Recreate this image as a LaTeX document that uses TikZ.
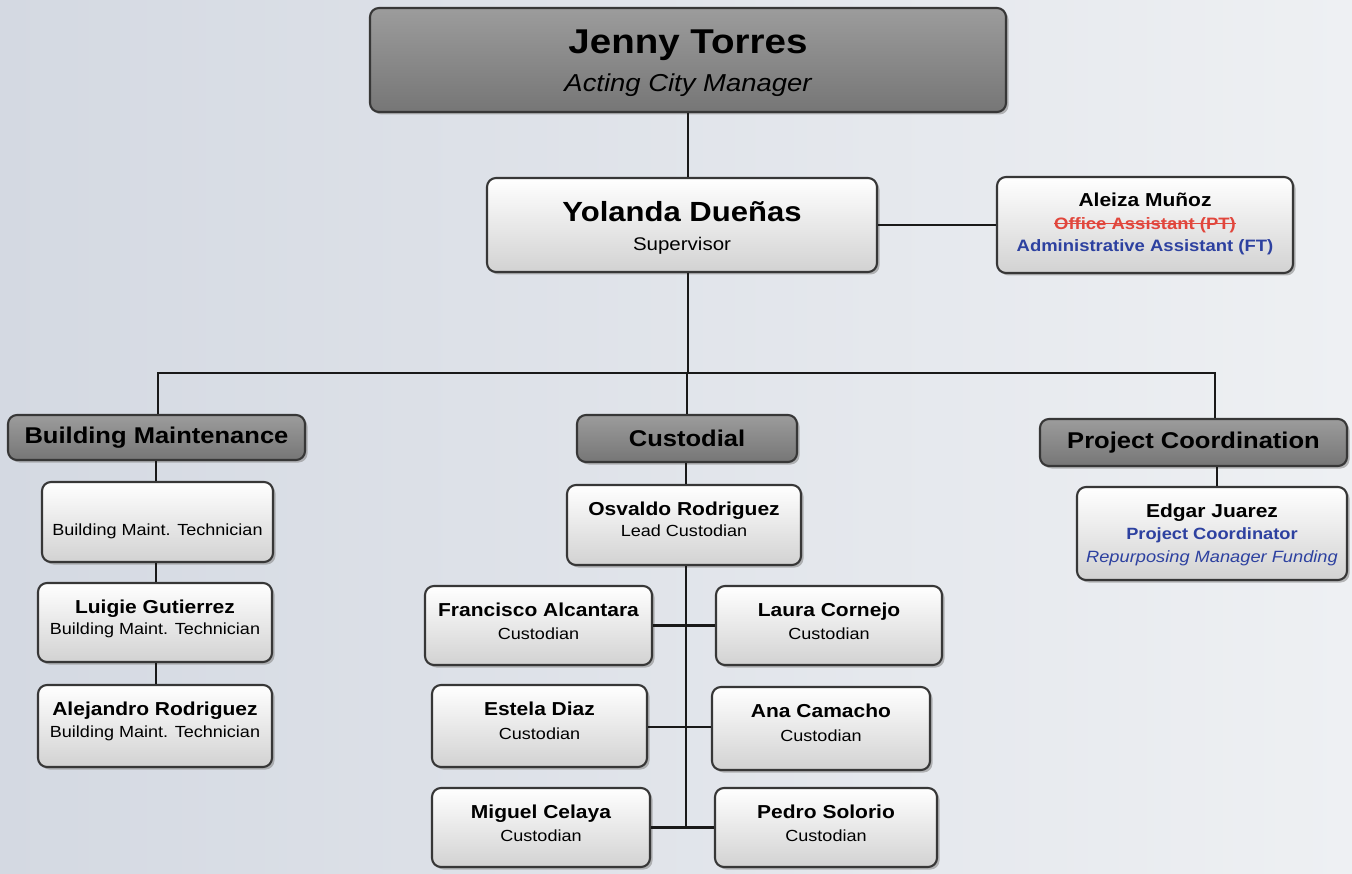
\documentclass[tikz,border=0pt]{standalone}
\usepackage{fontspec}
\setmainfont{Liberation Sans}[FakeStretch=1.12]
\usetikzlibrary{shadows}
\definecolor{bgL}{RGB}{212,217,226}
\definecolor{bgR}{RGB}{238,240,243}
\definecolor{hdTop}{RGB}{156,156,156}
\definecolor{hdBot}{RGB}{118,118,118}
\definecolor{lbBot}{RGB}{210,210,210}
\definecolor{edge}{RGB}{55,55,55}
\definecolor{redT}{RGB}{225,70,60}
\definecolor{blueT}{RGB}{45,65,160}
\newcommand{\fs}[1]{\fontsize{#1}{\fpeval{#1*1.2}}\selectfont}
\newcommand{\skipfont}[1]{\fontsize{10}{#1}\selectfont}
\newcommand{\strikeit}[1]{\setbox0\hbox{#1}\rlap{\raisebox{0.33em}{\rule{\wd0}{1.3pt}}}\box0}
% first-line height strut and last-line depth strut (fix text position in the box)
\newcommand{\hs}[1]{\rule{0pt}{#1pt}}
\newcommand{\ds}[1]{\rule[-#1pt]{0pt}{#1pt}}
\tikzset{
  base/.style={rounded corners=9pt, draw=edge, line width=2.1pt, align=center, inner sep=0pt,
     drop shadow={shadow xshift=2.5pt, shadow yshift=-2.5pt, fill=black!45, opacity=0.6}},
  darkbox/.style={base, top color=hdTop, bottom color=hdBot},
  lightbox/.style={base, top color=white, bottom color=lbBot},
  wire/.style={line width=2.8pt, draw=black!90},
  lead/.style={font=\skipfont{#1}},
}
\newcommand{\nm}[1]{{\bfseries\fs{18.75}#1}}
\newcommand{\ti}[1]{{\fs{16.1}#1}}
\begin{document}
\begin{tikzpicture}[x=1pt,y=-1pt]
\shade[left color=bgL, right color=bgR] (0,0) rectangle (1352,874);
\useasboundingbox (0,0) rectangle (1352,874);

% connector x positions
\coordinate (xTop) at (688,0);
\coordinate (xBM) at (156,0);
\coordinate (xC) at (686,0);
\coordinate (xPC) at (1217,0);
\coordinate (yEst) at (0,727);

% nodes
\node[darkbox, lead=38, minimum width=636pt, minimum height=104pt] (jenny) at (688,60)
  {\hs{32}{\bfseries\fs{34.4}Jenny Torres}\\{\itshape\fs{24.5}Acting City Manager}\ds{6}};
\node[lightbox, lead=29, minimum width=390pt, minimum height=94pt] (yolanda) at (682,225)
  {\hs{30}{\bfseries\fs{27.7}Yolanda Dueñas}\\{\fs{18.3}Supervisor}\ds{7}};
\node[lightbox, lead=22.5, minimum width=296pt, minimum height=94pt] (aleiza) at (1145,225)
  {\hs{30}\nm{Aleiza Muñoz}\\{\bfseries\fs{16.5}\color{redT}\strikeit{Office Assistant (PT)}}\\{\bfseries\fs{16.5}\color{blueT}Administrative Assistant (FT)}\ds{21}};

\node[darkbox, minimum width=297pt, minimum height=45pt] (bm) at (156.5,437.5)
  {\bfseries\fs{22.8}Building Maintenance};
\node[darkbox, minimum width=220pt, minimum height=47pt] (cust) at (687,438.5)
  {\bfseries\fs{22.8}Custodial};
\node[darkbox, minimum width=307pt, minimum height=47pt] (pc) at (1193.5,442.5)
  {\bfseries\fs{22.8}Project Coordination};

\node[lightbox, minimum width=231pt, minimum height=80pt] (bm1) at (157.5,522)
  {\hs{30}\ti{Building Maint. Technician}\ds{4}};
\node[lightbox, lead=21, minimum width=234pt, minimum height=79pt] (bm2) at (155,622.5)
  {\hs{30}\nm{Luigie Gutierrez}\\\ti{Building Maint. Technician}\ds{28}};
\node[lightbox, lead=22, minimum width=234pt, minimum height=78pt] (bm3) at (155,726)
  {\hs{30}\nm{Alejandro Rodriguez}\\\ti{Building Maint. Technician}\ds{30}};

\node[lightbox, lead=21, minimum width=234pt, minimum height=78pt] (osv) at (684,525)
  {\hs{30}\nm{Osvaldo Rodriguez}\\\ti{Lead Custodian}\ds{29}};
\node[lightbox, lead=22.5, minimum width=270pt, minimum height=93pt] (edgar) at (1212,533.5)
  {\hs{30}\nm{Edgar Juarez}\\{\bfseries\fs{16.3}\color{blueT}Project Coordinator}\\{\itshape\fs{16.3}\color{blueT}Repurposing Manager Funding}\ds{18}};

\node[lightbox, lead=23, minimum width=227pt, minimum height=75pt] (fra) at (538.5,625.5)
  {\hs{30}\nm{Francisco Alcantara}\\\ti{Custodian}\ds{26}};
\node[lightbox, lead=23, minimum width=226pt, minimum height=75pt] (lau) at (829,625.5)
  {\hs{30}\nm{Laura Cornejo}\\\ti{Custodian}\ds{26}};
\node[lightbox, lead=24, minimum width=215pt, minimum height=78pt] (est) at (539.5,726)
  {\hs{30}\nm{Estela Diaz}\\\ti{Custodian}\ds{28}};
\node[lightbox, lead=24, minimum width=218pt, minimum height=77pt] (ana) at (821,728.5)
  {\hs{30}\nm{Ana Camacho}\\\ti{Custodian}\ds{29}};
\node[lightbox, lead=23, minimum width=218pt, minimum height=76pt] (mig) at (541,827.5)
  {\hs{30}\nm{Miguel Celaya}\\\ti{Custodian}\ds{26}};
\node[lightbox, lead=23, minimum width=222pt, minimum height=75pt] (ped) at (826,827.5)
  {\hs{30}\nm{Pedro Solorio}\\\ti{Custodian}\ds{26}};

\coordinate (busL) at (158,373);
\coordinate (busM) at (688,373);
\coordinate (busR) at (1215,373);
\coordinate (trunkEnd) at (686,828);

% connectors
\draw[wire] (jenny.south -| xTop) -- (yolanda.north -| xTop);
\draw[wire] (yolanda.east) -- (aleiza.west);
\draw[wire] (yolanda.south -| busM) -- (busM);
\draw[wire] (busL |- bm.north) -- (busL) -- (busR) -- (busR |- pc.north);
\draw[wire] (busM -| cust.north) -- (cust.north);
\draw[wire] (bm.south -| xBM) -- (bm1.north -| xBM);
\draw[wire] (bm1.south -| xBM) -- (bm2.north -| xBM);
\draw[wire] (bm2.south -| xBM) -- (bm3.north -| xBM);
\draw[wire] (cust.south -| xC) -- (osv.north -| xC);
\draw[wire] (pc.south -| xPC) -- (edgar.north -| xPC);
\draw[wire] (osv.south -| trunkEnd) -- (trunkEnd);
\draw[wire] (fra.east) -- (lau.west);
\draw[wire] (est.east |- yEst) -- (ana.west |- yEst);
\draw[wire] (mig.east) -- (ped.west);
\end{tikzpicture}
\end{document}
